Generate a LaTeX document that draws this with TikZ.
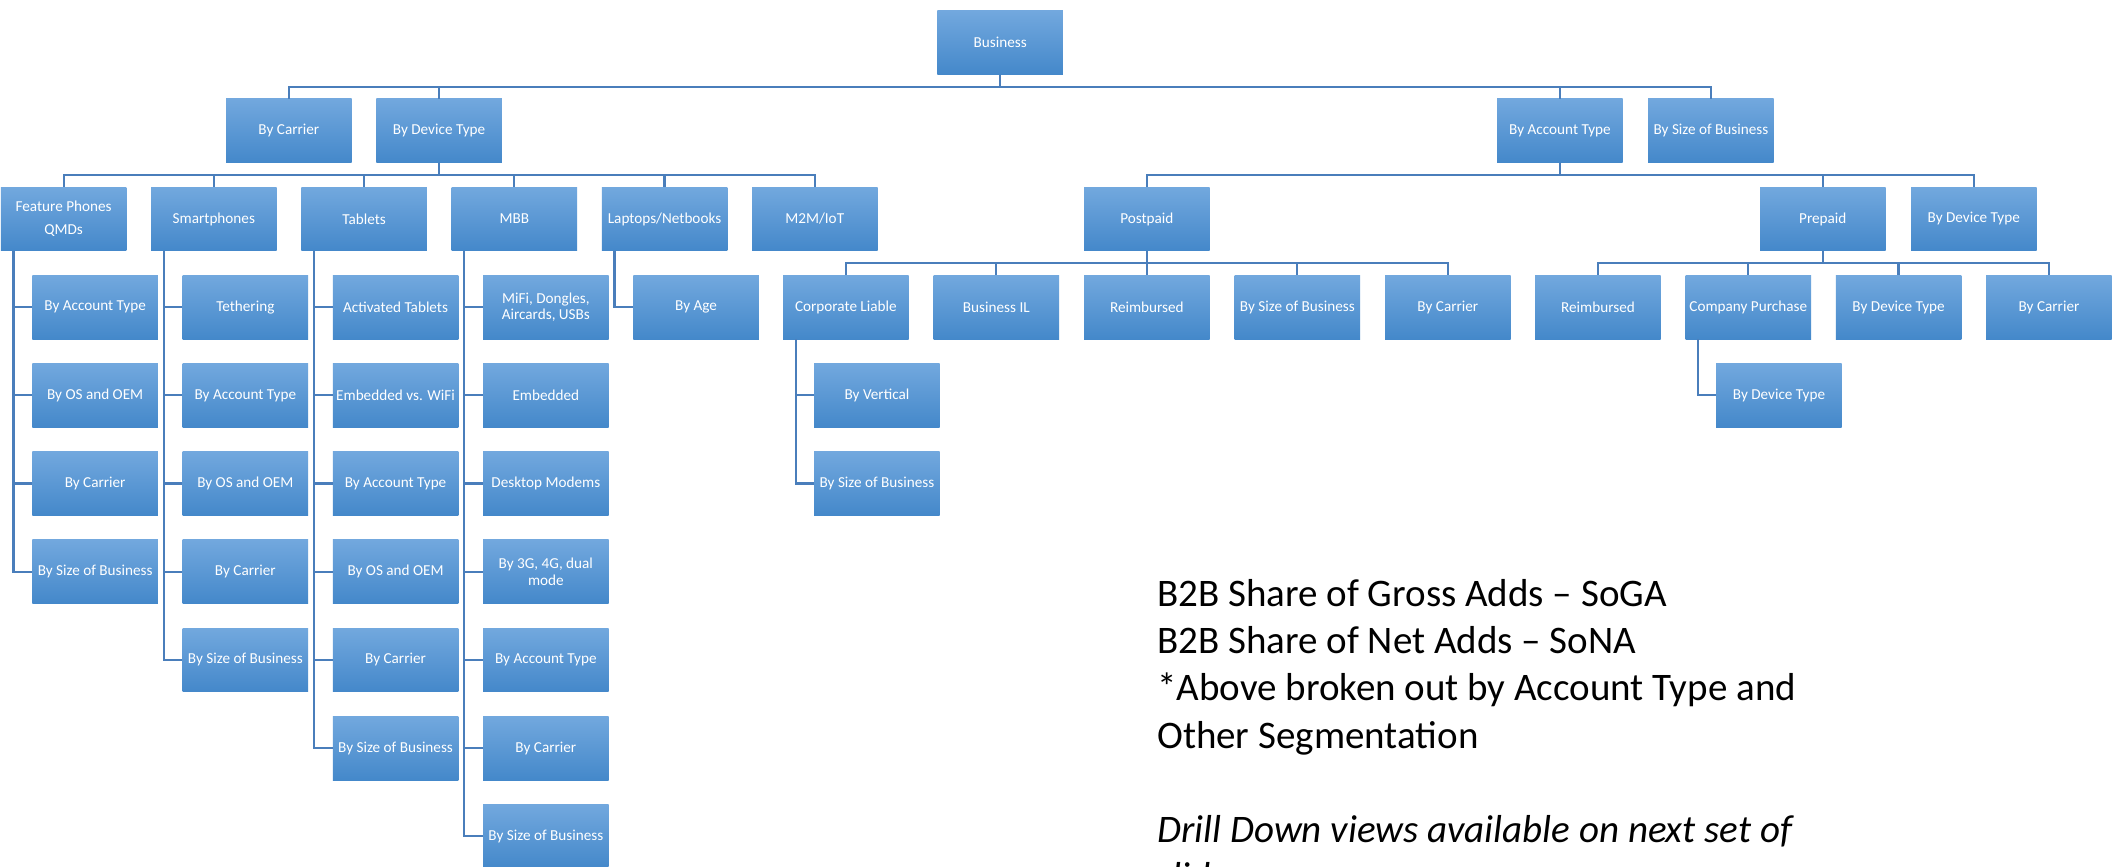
\documentclass[tikz,border=0pt]{standalone}
\usepackage{fontspec}
\setmainfont{Carlito}
\usetikzlibrary{calc}
\definecolor{boxtop}{RGB}{114,168,222}
\definecolor{boxmid}{RGB}{88,153,214}
\definecolor{boxbot}{RGB}{68,136,202}
\definecolor{linec}{RGB}{74,126,187}
\newcommand\bx[4]{\node[box] (#1) at (#2,#3) {#4};}
\begin{document}
\begin{tikzpicture}[x=1pt,y=-1pt,
  box/.style={rectangle, minimum width=125.5pt, minimum height=63.7pt, inner sep=1pt,
    anchor=north west, top color=boxtop, middle color=boxmid, bottom color=boxbot,
    draw=none, text=white, font=\fontsize{15.2}{16.8}\selectfont, align=center},
  conn/.style={draw=linec, line width=2.2pt},
  bigtext/.style={anchor=base west, inner sep=0pt, font=\fontsize{39}{47}\selectfont, text=black}]
\clip (0,0) rectangle (2112,867);
\fill[white] (0,0) rectangle (2112,867);
% level 0
\bx{biz}{937.2}{10.5}{Business}
% level 1
\bx{carrier}{225.9}{98.7}{By Carrier}
\bx{devtype}{376.1}{98.7}{By Device Type}
\bx{acct}{1497}{98.7}{By Account Type}
\bx{size}{1648}{98.7}{By Size of Business}
% level 2
\bx{fp}{0.7}{186.9}{Feature Phones\\[6.5pt]QMDs}
\bx{sp}{150.9}{186.9}{Smartphones}
\bx{tab}{301.1}{186.9}{Tablets}
\bx{mbb}{451.4}{186.9}{MBB}
\bx{lap}{601.6}{186.9}{Laptops/Netbooks}
\bx{m2m}{751.8}{186.9}{M2M/IoT}
\bx{post}{1083.9}{186.9}{Postpaid}
\bx{pre}{1759.8}{186.9}{Prepaid}
\bx{pdev}{1910.8}{186.9}{By Device Type}
% feature phones children
\bx{fpa}{32.2}{275.1}{By Account Type}
\bx{fpb}{32.2}{363.3}{By OS and OEM}
\bx{fpc}{32.2}{451.5}{By Carrier}
\bx{fpd}{32.2}{539.7}{By Size of Business}
% smartphones children
\bx{spa}{182.4}{275.1}{Tethering}
\bx{spb}{182.4}{363.3}{By Account Type}
\bx{spc}{182.4}{451.5}{By OS and OEM}
\bx{spd}{182.4}{539.7}{By Carrier}
\bx{spe}{182.4}{627.9}{By Size of Business}
% tablets children
\bx{taba}{332.6}{275.1}{Activated Tablets}
\bx{tabb}{332.6}{363.3}{Embedded vs. WiFi}
\bx{tabc}{332.6}{451.5}{By Account Type}
\bx{tabd}{332.6}{539.7}{By OS and OEM}
\bx{tabe}{332.6}{627.9}{By Carrier}
\bx{tabf}{332.6}{716.1}{By Size of Business}
% MBB children
\bx{mbba}{482.9}{275.1}{MiFi, Dongles,\\Aircards, USBs}
\bx{mbbb}{482.9}{363.3}{Embedded}
\bx{mbbc}{482.9}{451.5}{Desktop Modems}
\bx{mbbd}{482.9}{539.7}{By 3G, 4G, dual\\mode}
\bx{mbbe}{482.9}{627.9}{By Account Type}
\bx{mbbf}{482.9}{716.1}{By Carrier}
\bx{mbbg}{482.9}{804.3}{By Size of Business}
% laptops child
\bx{lapa}{633.1}{275.1}{By Age}
% postpaid children
\bx{cl}{782.9}{275.1}{Corporate Liable}
\bx{bil}{933.4}{275.1}{Business IL}
\bx{reimba}{1083.9}{275.1}{Reimbursed}
\bx{psize}{1234.4}{275.1}{By Size of Business}
\bx{pcar}{1384.9}{275.1}{By Carrier}
% corporate liable children
\bx{cla}{814}{363.3}{By Vertical}
\bx{clb}{814}{451.5}{By Size of Business}
% prepaid children
\bx{reimbb}{1535}{275.1}{Reimbursed}
\bx{cp}{1685.3}{275.1}{Company Purchase}
\bx{prdt}{1835.6}{275.1}{By Device Type}
\bx{prcar}{1986}{275.1}{By Carrier}
% company purchase child
\bx{cpa}{1716}{363.3}{By Device Type}
% tree connectors
\foreach \c in {carrier,devtype,acct,size}
  \draw[conn] (biz.south) -- ++(0,12.25) -| (\c.north);
\foreach \c in {fp,sp,tab,mbb,lap,m2m}
  \draw[conn] (devtype.south) -- ++(0,12.25) -| (\c.north);
\foreach \c in {post,pre,pdev}
  \draw[conn] (acct.south) -- ++(0,12.25) -| (\c.north);
\foreach \c in {cl,bil,reimba,psize,pcar}
  \draw[conn] (post.south) -- ++(0,12.25) -| (\c.north);
\foreach \c in {reimbb,cp,prdt,prcar}
  \draw[conn] (pre.south) -- ++(0,12.25) -| (\c.north);
% hanging connectors
\foreach \c in {fpa,fpb,fpc,fpd}
  \draw[conn] ($(fp.south west)+(12.8,0)$) |- (\c.west);
\foreach \c in {spa,spb,spc,spd,spe}
  \draw[conn] ($(sp.south west)+(12.8,0)$) |- (\c.west);
\foreach \c in {taba,tabb,tabc,tabd,tabe,tabf}
  \draw[conn] ($(tab.south west)+(12.8,0)$) |- (\c.west);
\foreach \c in {mbba,mbbb,mbbc,mbbd,mbbe,mbbf,mbbg}
  \draw[conn] ($(mbb.south west)+(12.8,0)$) |- (\c.west);
\draw[conn] ($(lap.south west)+(12.8,0)$) |- (lapa.west);
\foreach \c in {cla,clb}
  \draw[conn] ($(cl.south west)+(13,0)$) |- (\c.west);
\draw[conn] ($(cp.south west)+(13,0)$) |- (cpa.west);
% notes
\node[bigtext] (t1) at (1157,606.7) {B2B Share of Gross Adds – SoGA};
\node[bigtext] (t2) at (1157,653.8) {B2B Share of Net Adds – SoNA};
\node[bigtext] (t3) at (1157,700.9) {*Above broken out by Account Type and};
\node[bigtext] (t4) at (1157,748.0) {Other Segmentation};
\node[bigtext] (t5) at (1157,842.2) {\itshape Drill Down views available on next set of};
\node[bigtext] (t6) at (1157,889.3) {\itshape slides};
\end{tikzpicture}
\end{document}
